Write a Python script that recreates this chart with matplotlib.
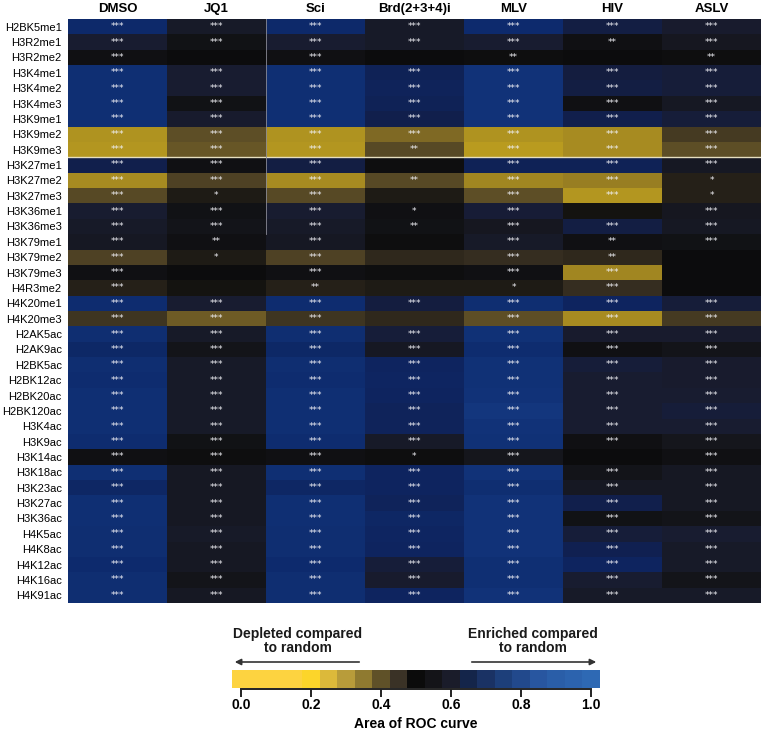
import numpy as np
import matplotlib
matplotlib.use("Agg")
import matplotlib.pyplot as plt
from matplotlib.colors import LinearSegmentedColormap, ListedColormap

# ---------------- data ----------------
marks = ["H2BK5me1", "H3R2me1", "H3R2me2", "H3K4me1", "H3K4me2", "H3K4me3",
         "H3K9me1", "H3K9me2", "H3K9me3", "H3K27me1", "H3K27me2", "H3K27me3",
         "H3K36me1", "H3K36me3", "H3K79me1", "H3K79me2", "H3K79me3", "H4R3me2",
         "H4K20me1", "H4K20me3", "H2AK5ac", "H2AK9ac", "H2BK5ac", "H2BK12ac",
         "H2BK20ac", "H2BK120ac", "H3K4ac", "H3K9ac", "H3K14ac", "H3K18ac",
         "H3K23ac", "H3K27ac", "H3K36ac", "H4K5ac", "H4K8ac", "H4K12ac",
         "H4K16ac", "H4K91ac"]
conditions = ["DMSO", "JQ1", "Sci", "Brd(2+3+4)i", "MLV", "HIV", "ASLV"]

dmso = [0.74, 0.60, 0.52, 0.78, 0.78, 0.78, 0.78, 0.30, 0.29, 0.66, 0.31, 0.41,
        0.60, 0.58, 0.57, 0.42, 0.52, 0.47, 0.76, 0.44, 0.77, 0.73, 0.77, 0.76,
        0.78, 0.78, 0.78, 0.76, 0.52, 0.78, 0.72, 0.78, 0.78, 0.77, 0.77, 0.75,
        0.77, 0.77]
jq1 = [0.58, 0.53, 0.50, 0.60, 0.60, 0.53, 0.59, 0.40, 0.39, 0.52, 0.42, 0.48,
       0.53, 0.54, 0.52, 0.48, 0.50, 0.49, 0.60, 0.38, 0.58, 0.54, 0.58, 0.58,
       0.58, 0.58, 0.58, 0.53, 0.51, 0.57, 0.57, 0.57, 0.57, 0.58, 0.57, 0.57,
       0.54, 0.57]
sci = [0.74, 0.60, 0.52, 0.78, 0.78, 0.78, 0.78, 0.30, 0.29, 0.64, 0.31, 0.41,
       0.60, 0.58, 0.57, 0.42, 0.52, 0.47, 0.76, 0.44, 0.77, 0.73, 0.77, 0.76,
       0.78, 0.78, 0.78, 0.76, 0.52, 0.78, 0.72, 0.78, 0.78, 0.77, 0.77, 0.75,
       0.77, 0.77]
brd = [0.58, 0.58, 0.50, 0.68, 0.69, 0.68, 0.66, 0.36, 0.41, 0.51, 0.41, 0.48,
       0.52, 0.53, 0.51, 0.46, 0.51, 0.48, 0.63, 0.46, 0.62, 0.57, 0.70, 0.71,
       0.70, 0.69, 0.69, 0.58, 0.51, 0.70, 0.70, 0.69, 0.72, 0.71, 0.70, 0.62,
       0.59, 0.70]
mlv = [0.75, 0.60, 0.51, 0.80, 0.80, 0.80, 0.80, 0.30, 0.28, 0.68, 0.32, 0.40,
       0.61, 0.56, 0.58, 0.45, 0.52, 0.48, 0.77, 0.40, 0.79, 0.76, 0.79, 0.79,
       0.80, 0.81, 0.80, 0.79, 0.55, 0.80, 0.77, 0.80, 0.80, 0.80, 0.80, 0.78,
       0.78, 0.80]
hiv = [0.64, 0.52, 0.50, 0.63, 0.64, 0.52, 0.66, 0.31, 0.31, 0.68, 0.33, 0.29,
       0.49, 0.64, 0.52, 0.46, 0.32, 0.45, 0.70, 0.31, 0.59, 0.52, 0.62, 0.60,
       0.60, 0.60, 0.60, 0.52, 0.50, 0.54, 0.57, 0.66, 0.53, 0.62, 0.67, 0.70,
       0.60, 0.58]
aslv = [0.59, 0.56, 0.51, 0.62, 0.62, 0.57, 0.62, 0.43, 0.40, 0.57, 0.47, 0.47,
        0.56, 0.57, 0.53, 0.50, 0.50, 0.50, 0.62, 0.43, 0.59, 0.54, 0.59, 0.59,
        0.60, 0.62, 0.60, 0.55, 0.52, 0.57, 0.57, 0.57, 0.54, 0.60, 0.58, 0.58,
        0.54, 0.58]

A = "***"
dmso_sig = [A] * 38
jq1_sig = [A, A, "", A, A, A, A, A, A, A, A, "*", A, A, "**", "*", "", "", A, A,
           A, A, A, A, A, A, A, A, A, A, A, A, A, A, A, A, A, A]
sci_sig = [A] * 17 + ["**"] + [A] * 20
brd_sig = [A, A, "", A, A, A, A, A, "**", "", "**", "", "*", "**", "", "", "", "",
           A, "", A, A, A, A, A, A, A, A, "*", A, A, A, A, A, A, A, A, A]
mlv_sig = [A, A, "**"] + [A] * 14 + ["*"] + [A] * 20
hiv_sig = [A, "**", "", A, A, A, A, A, A, A, A, A, "", A, "**", "**", A, A, A, A,
           A, A, A, A, A, A, A, A, "", A, A, A, A, A, A, A, A, A]
aslv_sig = [A, A, "**", A, A, A, A, A, A, A, "*", "*", A, A, A, "", "", "",
            A, A] + [A] * 18

bar_ticks = [0.0, 0.2, 0.4, 0.6, 0.8, 1.0]
bar_levels = np.round(np.arange(0, 1.0001, 0.05), 2)

# ---------------- styles ----------------
cell_anchor_pos = [0.0, 0.2, 0.25, 0.3, 0.35, 0.4, 0.45, 0.5, 0.55, 0.6, 0.65,
                   0.7, 0.75, 0.8, 0.9, 1.0]
cell_anchor_rgb = [(250, 205, 50), (236, 196, 30), (200, 168, 30), (174, 146, 32),
                   (136, 112, 36), (93, 78, 38), (54, 46, 32), (12, 12, 12),
                   (21, 22, 28), (24, 28, 48), (18, 30, 72), (14, 36, 94),
                   (13, 42, 108), (17, 50, 120), (32, 80, 160), (46, 105, 180)]
cell_cmap = LinearSegmentedColormap.from_list(
    "cells", [(p, tuple(c / 255 for c in rgb)) for p, rgb in zip(cell_anchor_pos, cell_anchor_rgb)])

bar_rgb = [(253, 211, 64), (253, 211, 64), (253, 211, 64), (253, 211, 64),
           (252, 213, 42), (220, 185, 58), (184, 156, 58), (143, 122, 48),
           (95, 81, 40), (58, 50, 38), (11, 11, 11), (20, 20, 24), (26, 28, 42),
           (20, 37, 74), (26, 50, 100), (29, 63, 122), (34, 73, 140),
           (40, 86, 160), (42, 94, 168), (44, 99, 174), (46, 105, 180)]
bar_cmap = ListedColormap([tuple(c / 255 for c in rgb) for rgb in bar_rgb])

plt.rcParams["font.family"] = ["Liberation Sans", "DejaVu Sans"]

W, H = 763, 733
fig = plt.figure(figsize=(W / 100, H / 100), dpi=100)

def fx(px):
    return px / W

def fy(py):
    return 1 - py / H

# ---------------- heatmap ----------------
ax = fig.add_axes([fx(68), fy(603), fx(761) - fx(68), fy(19) - fy(603)])
values = np.array([dmso, jq1, sci, brd, mlv, hiv, aslv]).T
sigs = list(zip(dmso_sig, jq1_sig, sci_sig, brd_sig, mlv_sig, hiv_sig, aslv_sig))
nr, nc = values.shape
ax.pcolormesh(np.arange(nc + 1), np.arange(nr + 1), values, cmap=cell_cmap,
              vmin=0, vmax=1, shading="flat")
ax.set_xlim(0, nc)
ax.set_ylim(nr, 0)
for i in range(nr):
    for j in range(nc):
        s = sigs[i][j]
        if s:
            ax.text(j + 0.5, i + 0.5, s, ha="center", va="center",
                    color="#f0f0f5", fontsize=6.6, family="DejaVu Sans")

ax.xaxis.tick_top()
ax.tick_params(length=0, pad=4.5)
ax.tick_params(axis="x", pad=3)
ax.set_xticks(np.arange(nc) + 0.5)
ax.set_xticklabels(conditions, fontsize=9.5, fontweight="bold")
ax.set_yticks(np.arange(nr) + 0.5)
ax.set_yticklabels(marks, fontsize=8)
for sp in ax.spines.values():
    sp.set_visible(False)
ax.axhline(9, color="#e6dfc0", lw=1.0)
ax.plot([2, 2], [0, 14], color="#8a8a95", lw=0.6)

# ---------------- colour bar ----------------
cax = fig.add_axes([fx(232), fy(688), fx(600) - fx(232), fy(670) - fy(688)])
cax.imshow(bar_levels[np.newaxis, :], cmap=bar_cmap, aspect="auto",
           extent=[-0.025, 1.025, 0, 1], interpolation="nearest")
cax.set_xlim(-0.025, 1.025)
cax.set_ylim(0, 1)
for k in ["top", "left", "right"]:
    cax.spines[k].set_visible(False)
cax.spines["bottom"].set_position(("outward", 1))
cax.spines["bottom"].set_bounds(0, 1)
cax.spines["bottom"].set_linewidth(1.4)
cax.spines["bottom"].set_color("#222222")
cax.set_yticks([])
cax.tick_params(axis="x", direction="out", length=6, width=1.4, color="#222222", pad=0)
cax.set_xticks(bar_ticks)
cax.set_xticklabels([f"{t:.1f}" for t in bar_ticks], fontsize=10, fontweight="bold")
cax.set_xlabel("Area of ROC curve", fontsize=10, fontweight="bold", labelpad=4)

fig.text(fx(298), fy(641), "Depleted compared\nto random", ha="center", va="center",
         fontsize=10, fontweight="bold", linespacing=1.05, color="#1a1a1a")
fig.text(fx(533), fy(641), "Enriched compared\nto random", ha="center", va="center",
         fontsize=10, fontweight="bold", linespacing=1.05, color="#1a1a1a")
arrow_kw = dict(arrowstyle="-|>", color="#333333", lw=1.2, mutation_scale=9)
fig.patches.append(matplotlib.patches.FancyArrowPatch(
    (fx(362), fy(662)), (fx(232), fy(662)), transform=fig.transFigure, **arrow_kw))
fig.patches.append(matplotlib.patches.FancyArrowPatch(
    (fx(469), fy(662)), (fx(599), fy(662)), transform=fig.transFigure, **arrow_kw))

fig.savefig("out.png", dpi=100, facecolor="white")
